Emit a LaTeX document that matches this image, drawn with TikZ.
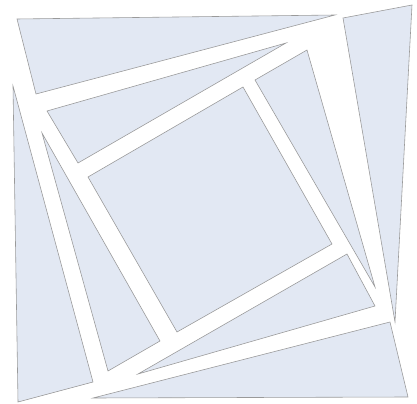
\documentclass[tikz,border=0pt]{standalone}
\definecolor{paneblue}{HTML}{E2E8F3}
\definecolor{paneedge}{HTML}{9A9A9A}
\begin{document}
\begin{tikzpicture}[
  x=0.03cm, y=-0.03cm,
  piece/.style={fill=paneblue, draw=paneedge, line width=0.5pt, line join=miter}
]
  \useasboundingbox (0,0) rectangle (417,404);
  % outer triangles
  \filldraw[piece] (17,19) -- (335,15) -- (36,94) -- cycle;
  \filldraw[piece] (343,18) -- (412,5) -- (395,322) -- cycle;
  \filldraw[piece] (390,322) -- (408,397) -- (93,398) -- cycle;
  \filldraw[piece] (13,86) -- (93,382) -- (18,402) -- cycle;
  % inner strips
  \filldraw[piece] (47,111) -- (286,43) -- (78,163) -- cycle;
  \filldraw[piece] (255,80) -- (307,50) -- (375,287) -- cycle;
  \filldraw[piece] (347,254) -- (375,306) -- (138,374) -- cycle;
  \filldraw[piece] (42,133) -- (160,341) -- (108,371) -- cycle;
  % centre square
  \filldraw[piece] (88,177) -- (243,87) -- (332,244) -- (177,332) -- cycle;
\end{tikzpicture}
\end{document}
